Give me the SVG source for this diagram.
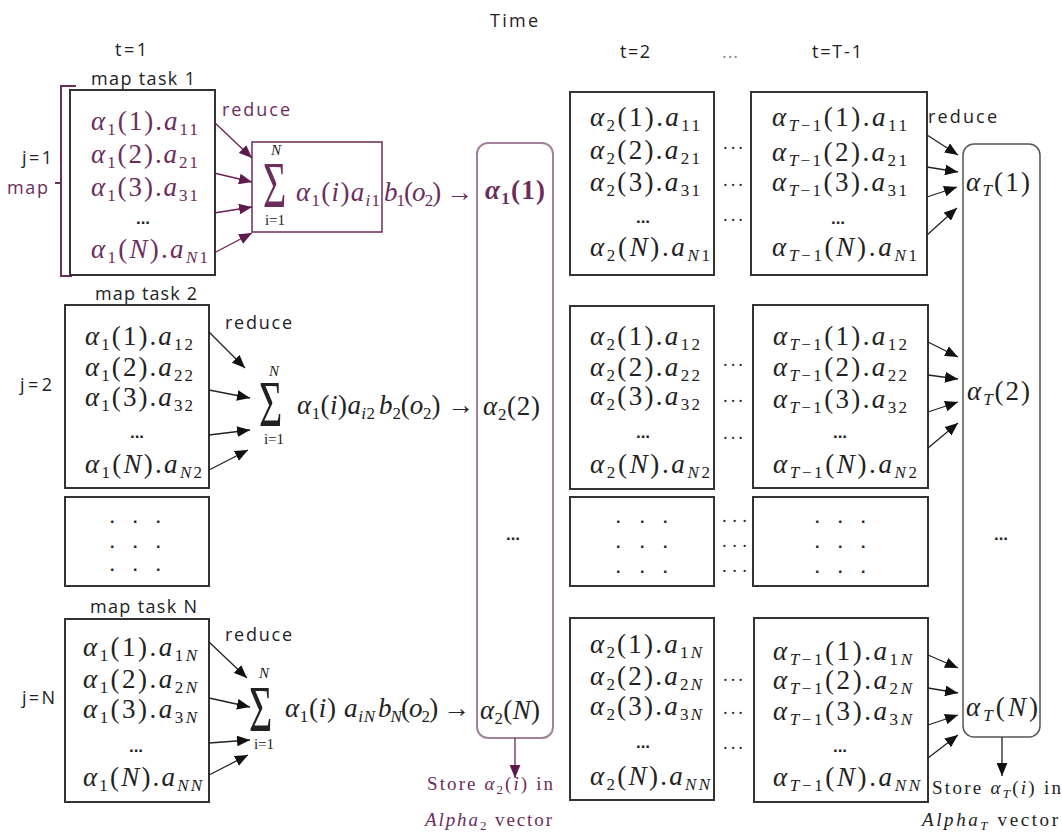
<svg xmlns="http://www.w3.org/2000/svg" width="1062" height="834" viewBox="0 0 1062 834">
<style>
.lbl{font-family:"Open Sans","Liberation Sans",sans-serif;font-size:18px;fill:#222}
.m{font-family:"Liberation Serif",serif;font-size:27px;fill:#222}
.i{font-style:italic}
.s{font-size:17px}
.p{fill:#6b2d5c}
.box{fill:#fff;stroke:#333;stroke-width:2}
.el{font-family:"Liberation Sans",sans-serif;font-size:17px;font-weight:bold;fill:#222}
.dt{font-family:"Liberation Sans",sans-serif;font-size:16px;font-weight:bold;fill:#222}
.lim{font-family:"Liberation Serif",serif;font-size:15px;fill:#222}
.cn{fill:none;stroke:#222;stroke-width:1.3}
.cp{fill:none;stroke:#6b1f55;stroke-width:1.3}
</style>
<defs>
<marker id="ah" viewBox="0 0 12 10" refX="12" refY="5" markerWidth="13" markerHeight="11" markerUnits="userSpaceOnUse" orient="auto"><path d="M0,0 L12,5 L0,10 z" fill="#111"/></marker>
<marker id="ahp" viewBox="0 0 12 10" refX="12" refY="5" markerWidth="13" markerHeight="11" markerUnits="userSpaceOnUse" orient="auto"><path d="M0,0 L12,5 L0,10 z" fill="#5e1a4c"/></marker>
</defs>
<rect width="1062" height="834" fill="#fff"/>

<g id="headers">
<text class="lbl" x="490" y="27" textLength="48">Time</text>
<text class="lbl" x="115" y="56" textLength="32">t=1</text>
<text class="lbl" x="620" y="58" textLength="30">t=2</text>
<text class="lbl" x="722" y="58" textLength="16" style="fill:#888">...</text>
<text class="lbl" x="812" y="58" textLength="50">t=T-1</text>
<text class="lbl" x="22" y="164" textLength="30">j=1</text>
<text class="lbl" x="20" y="391" textLength="32">j=2</text>
<text class="lbl" x="22" y="704" textLength="33">j=N</text>
</g>

<g id="map-bracket">
<path d="M76,86 H61 V276 H72 M61,183 H55" fill="none" stroke="#6b2d5c" stroke-width="2"/>
<text class="lbl p" x="7" y="194" textLength="41">map</text>
</g>

<g id="map-task-1">
<text class="lbl" x="91" y="85" textLength="104">map task 1</text>
<rect class="box" x="70" y="90" width="145" height="185"/>
<text class="m p" x="91" y="130" textLength="107"><tspan class="i">α</tspan><tspan class="s" dy="5">1</tspan><tspan dy="-5">(1).</tspan><tspan class="i">a</tspan><tspan class="s" dy="5">11</tspan></text>
<text class="m p" x="91" y="163" textLength="107"><tspan class="i">α</tspan><tspan class="s" dy="5">1</tspan><tspan dy="-5">(2).</tspan><tspan class="i">a</tspan><tspan class="s" dy="5">21</tspan></text>
<text class="m p" x="91" y="196" textLength="107"><tspan class="i">α</tspan><tspan class="s" dy="5">1</tspan><tspan dy="-5">(3).</tspan><tspan class="i">a</tspan><tspan class="s" dy="5">31</tspan></text>
<text class="el p" x="143" y="224" text-anchor="middle">...</text>
<text class="m p" x="91" y="258" textLength="117"><tspan class="i">α</tspan><tspan class="s" dy="5">1</tspan><tspan dy="-5">(</tspan><tspan class="i">N</tspan>).<tspan class="i">a</tspan><tspan class="s i" dy="5">N</tspan><tspan class="s">1</tspan></text>
</g>

<g id="reduce-1">
<text class="lbl p" x="222" y="116" textLength="68">reduce</text>
<rect x="252" y="142" width="130" height="90" fill="none" stroke="#6b2d5c" stroke-width="1.5"/>
<text class="m p" transform="translate(263,207) scale(1,1.65)" style="font-size:40px">Σ</text>
<text class="lim p i" x="276" y="155" text-anchor="middle">N</text>
<text class="lim p" x="275" y="225" text-anchor="middle">i=1</text>
<text class="m p" x="296" y="201" textLength="84"><tspan class="i">α</tspan><tspan class="s" dy="5">1</tspan><tspan dy="-5">(</tspan><tspan class="i">i</tspan>)<tspan class="i">a</tspan><tspan class="s i" dy="5">i</tspan><tspan class="s">1</tspan></text>
<text class="m p" x="384" y="201" textLength="89"><tspan class="i">b</tspan><tspan class="s" dy="5">1</tspan><tspan dy="-5">(</tspan><tspan class="i">o</tspan><tspan class="s" dy="5">2</tspan><tspan dy="-5">) →</tspan></text>
</g>

<g id="map-task-2">
<text class="lbl" x="95" y="300" textLength="102">map task 2</text>
<rect class="box" x="65" y="305" width="144" height="183"/>
<text class="m" x="85" y="345" textLength="108"><tspan class="i">α</tspan><tspan class="s" dy="5">1</tspan><tspan dy="-5">(1).</tspan><tspan class="i">a</tspan><tspan class="s" dy="5">12</tspan></text>
<text class="m" x="85" y="376" textLength="108"><tspan class="i">α</tspan><tspan class="s" dy="5">1</tspan><tspan dy="-5">(2).</tspan><tspan class="i">a</tspan><tspan class="s" dy="5">22</tspan></text>
<text class="m" x="85" y="406" textLength="108"><tspan class="i">α</tspan><tspan class="s" dy="5">1</tspan><tspan dy="-5">(3).</tspan><tspan class="i">a</tspan><tspan class="s" dy="5">32</tspan></text>
<text class="el" x="137" y="438" text-anchor="middle">...</text>
<text class="m" x="85" y="473" textLength="117"><tspan class="i">α</tspan><tspan class="s" dy="5">1</tspan><tspan dy="-5">(</tspan><tspan class="i">N</tspan>).<tspan class="i">a</tspan><tspan class="s i" dy="5">N</tspan><tspan class="s">2</tspan></text>
</g>

<g id="reduce-2">
<text class="lbl" x="225" y="329" textLength="67">reduce</text>
<text class="m" transform="translate(259,426) scale(1,1.65)" style="font-size:40px">Σ</text>
<text class="lim i" x="274" y="376" text-anchor="middle">N</text>
<text class="lim" x="274" y="444" text-anchor="middle">i=1</text>
<text class="m" x="297" y="414" textLength="78"><tspan class="i">α</tspan><tspan class="s" dy="5">1</tspan><tspan dy="-5">(</tspan><tspan class="i">i</tspan>)<tspan class="i">a</tspan><tspan class="s i" dy="5">i</tspan><tspan class="s">2</tspan></text>
<text class="m" x="379" y="414" textLength="95"><tspan class="i">b</tspan><tspan class="s" dy="5">2</tspan><tspan dy="-5">(</tspan><tspan class="i">o</tspan><tspan class="s" dy="5">2</tspan><tspan dy="-5">) →</tspan></text>
</g>

<g id="map-task-dots">
<rect class="box" x="65" y="497" width="144" height="89"/>
<text class="dt" x="110 133 156" y="523">...</text>
<text class="dt" x="110 133 156" y="548">...</text>
<text class="dt" x="110 133 156" y="571">...</text>
</g>

<g id="map-task-N">
<text class="lbl" x="90" y="613" textLength="107">map task N</text>
<rect class="box" x="65" y="619" width="144" height="183"/>
<text class="m" x="83" y="656" textLength="114"><tspan class="i">α</tspan><tspan class="s" dy="5">1</tspan><tspan dy="-5">(1).</tspan><tspan class="i">a</tspan><tspan class="s" dy="5">1</tspan><tspan class="s i">N</tspan></text>
<text class="m" x="83" y="688" textLength="114"><tspan class="i">α</tspan><tspan class="s" dy="5">1</tspan><tspan dy="-5">(2).</tspan><tspan class="i">a</tspan><tspan class="s" dy="5">2</tspan><tspan class="s i">N</tspan></text>
<text class="m" x="83" y="718" textLength="114"><tspan class="i">α</tspan><tspan class="s" dy="5">1</tspan><tspan dy="-5">(3).</tspan><tspan class="i">a</tspan><tspan class="s" dy="5">3</tspan><tspan class="s i">N</tspan></text>
<text class="el" x="136" y="752" text-anchor="middle">...</text>
<text class="m" x="83" y="786" textLength="119"><tspan class="i">α</tspan><tspan class="s" dy="5">1</tspan><tspan dy="-5">(</tspan><tspan class="i">N</tspan>).<tspan class="i">a</tspan><tspan class="s i" dy="5">NN</tspan></text>
</g>

<g id="reduce-N">
<text class="lbl" x="225" y="641" textLength="67">reduce</text>
<text class="m" transform="translate(249,731) scale(1,1.65)" style="font-size:40px">Σ</text>
<text class="lim i" x="264" y="678" text-anchor="middle">N</text>
<text class="lim" x="264" y="749" text-anchor="middle">i=1</text>
<text class="m" x="285" y="717" textLength="90"><tspan class="i">α</tspan><tspan class="s" dy="5">1</tspan><tspan dy="-5">(</tspan><tspan class="i">i</tspan>) <tspan class="i">a</tspan><tspan class="s i" dy="5">iN</tspan></text>
<text class="m" x="378" y="717" textLength="92"><tspan class="i">b</tspan><tspan class="s i" dy="5">N</tspan><tspan dy="-5">(</tspan><tspan class="i">o</tspan><tspan class="s" dy="5">2</tspan><tspan dy="-5">) →</tspan></text>
</g>

<g id="alpha2-column">
<rect x="477" y="143" width="76" height="595" rx="11" fill="none" stroke="#a5809b" stroke-width="2"/>
<text class="m p" x="485" y="199" textLength="60" font-weight="bold"><tspan class="i">α</tspan><tspan class="s" dy="5">1</tspan><tspan dy="-5">(1)</tspan></text>
<text class="m" x="483" y="415" textLength="57"><tspan class="i">α</tspan><tspan class="s" dy="5">2</tspan><tspan dy="-5">(2)</tspan></text>
<text class="el" x="513" y="540" text-anchor="middle">...</text>
<text class="m" x="480" y="719" textLength="60"><tspan class="i">α</tspan><tspan class="s" dy="5">2</tspan><tspan dy="-5">(</tspan><tspan class="i">N</tspan>)</text>
</g>
<g id="store-alpha2">
<text class="m p" x="427" y="790" textLength="126" style="font-size:19px">Store <tspan class="i">α</tspan><tspan style="font-size:13px" dy="4">2</tspan><tspan dy="-4">(</tspan><tspan class="i">i</tspan>) in</text>
<text class="m p" x="425" y="826" textLength="127" style="font-size:19px"><tspan class="i">Alpha</tspan><tspan style="font-size:13px" dy="4">2</tspan><tspan dy="-4"> vector</tspan></text>
</g>

<g id="t2-row1">
<rect class="box" x="570" y="92" width="144" height="183"/>
<text class="m" x="590" y="126" textLength="110"><tspan class="i">α</tspan><tspan class="s" dy="5">2</tspan><tspan dy="-5">(1).</tspan><tspan class="i">a</tspan><tspan class="s" dy="5">11</tspan></text>
<text class="m" x="590" y="159" textLength="110"><tspan class="i">α</tspan><tspan class="s" dy="5">2</tspan><tspan dy="-5">(2).</tspan><tspan class="i">a</tspan><tspan class="s" dy="5">21</tspan></text>
<text class="m" x="590" y="191" textLength="110"><tspan class="i">α</tspan><tspan class="s" dy="5">2</tspan><tspan dy="-5">(3).</tspan><tspan class="i">a</tspan><tspan class="s" dy="5">31</tspan></text>
<text class="el" x="643" y="223" text-anchor="middle">...</text>
<text class="m" x="590" y="256" textLength="120"><tspan class="i">α</tspan><tspan class="s" dy="5">2</tspan><tspan dy="-5">(</tspan><tspan class="i">N</tspan>).<tspan class="i">a</tspan><tspan class="s i" dy="5">N</tspan><tspan class="s">1</tspan></text>
</g>
<g id="t2-row2">
<rect class="box" x="570" y="306" width="144" height="183"/>
<text class="m" x="590" y="345" textLength="110"><tspan class="i">α</tspan><tspan class="s" dy="5">2</tspan><tspan dy="-5">(1).</tspan><tspan class="i">a</tspan><tspan class="s" dy="5">12</tspan></text>
<text class="m" x="590" y="376" textLength="110"><tspan class="i">α</tspan><tspan class="s" dy="5">2</tspan><tspan dy="-5">(2).</tspan><tspan class="i">a</tspan><tspan class="s" dy="5">22</tspan></text>
<text class="m" x="590" y="405" textLength="110"><tspan class="i">α</tspan><tspan class="s" dy="5">2</tspan><tspan dy="-5">(3).</tspan><tspan class="i">a</tspan><tspan class="s" dy="5">32</tspan></text>
<text class="el" x="643" y="438" text-anchor="middle">...</text>
<text class="m" x="590" y="473" textLength="120"><tspan class="i">α</tspan><tspan class="s" dy="5">2</tspan><tspan dy="-5">(</tspan><tspan class="i">N</tspan>).<tspan class="i">a</tspan><tspan class="s i" dy="5">N</tspan><tspan class="s">2</tspan></text>
</g>
<g id="t2-row3">
<rect class="box" x="570" y="497" width="144" height="89"/>
<text class="dt" x="616 640 663" y="523">...</text>
<text class="dt" x="616 640 663" y="548">...</text>
<text class="dt" x="616 640 663" y="573">...</text>
</g>
<g id="t2-rowN">
<rect class="box" x="570" y="618" width="144" height="182"/>
<text class="m" x="590" y="653" textLength="112"><tspan class="i">α</tspan><tspan class="s" dy="5">2</tspan><tspan dy="-5">(1).</tspan><tspan class="i">a</tspan><tspan class="s" dy="5">1</tspan><tspan class="s i">N</tspan></text>
<text class="m" x="590" y="685" textLength="112"><tspan class="i">α</tspan><tspan class="s" dy="5">2</tspan><tspan dy="-5">(2).</tspan><tspan class="i">a</tspan><tspan class="s" dy="5">2</tspan><tspan class="s i">N</tspan></text>
<text class="m" x="590" y="715" textLength="112"><tspan class="i">α</tspan><tspan class="s" dy="5">2</tspan><tspan dy="-5">(3).</tspan><tspan class="i">a</tspan><tspan class="s" dy="5">3</tspan><tspan class="s i">N</tspan></text>
<text class="el" x="643" y="748" text-anchor="middle">...</text>
<text class="m" x="590" y="785" textLength="120"><tspan class="i">α</tspan><tspan class="s" dy="5">2</tspan><tspan dy="-5">(</tspan><tspan class="i">N</tspan>).<tspan class="i">a</tspan><tspan class="s i" dy="5">NN</tspan></text>
</g>

<g id="between-dots">
<text class="lbl" x="723" y="149" textLength="20">...</text>
<text class="lbl" x="723" y="186" textLength="20">...</text>
<text class="lbl" x="723" y="221" textLength="20">...</text>
<text class="lbl" x="723" y="366" textLength="20">...</text>
<text class="lbl" x="723" y="402" textLength="20">...</text>
<text class="lbl" x="723" y="439" textLength="20">...</text>
<text class="lbl" x="722" y="522" textLength="25">...</text>
<text class="lbl" x="722" y="547" textLength="25">...</text>
<text class="lbl" x="722" y="572" textLength="25">...</text>
<text class="lbl" x="723" y="681" textLength="20">...</text>
<text class="lbl" x="723" y="714" textLength="20">...</text>
<text class="lbl" x="723" y="749" textLength="20">...</text>
</g>

<g id="tT1-row1">
<rect class="box" x="751" y="92" width="176" height="183"/>
<text class="m" x="772" y="126" textLength="135"><tspan class="i">α</tspan><tspan class="s i" dy="5">T</tspan><tspan class="s">−1</tspan><tspan dy="-5">(1).</tspan><tspan class="i">a</tspan><tspan class="s" dy="5">11</tspan></text>
<text class="m" x="772" y="161" textLength="135"><tspan class="i">α</tspan><tspan class="s i" dy="5">T</tspan><tspan class="s">−1</tspan><tspan dy="-5">(2).</tspan><tspan class="i">a</tspan><tspan class="s" dy="5">21</tspan></text>
<text class="m" x="772" y="191" textLength="135"><tspan class="i">α</tspan><tspan class="s i" dy="5">T</tspan><tspan class="s">−1</tspan><tspan dy="-5">(3).</tspan><tspan class="i">a</tspan><tspan class="s" dy="5">31</tspan></text>
<text class="el" x="838" y="224" text-anchor="middle">...</text>
<text class="m" x="772" y="256" textLength="145"><tspan class="i">α</tspan><tspan class="s i" dy="5">T</tspan><tspan class="s">−1</tspan><tspan dy="-5">(</tspan><tspan class="i">N</tspan>).<tspan class="i">a</tspan><tspan class="s i" dy="5">N</tspan><tspan class="s">1</tspan></text>
</g>
<g id="tT1-row2">
<rect class="box" x="753" y="305" width="175" height="183"/>
<text class="m" x="773" y="345" textLength="134"><tspan class="i">α</tspan><tspan class="s i" dy="5">T</tspan><tspan class="s">−1</tspan><tspan dy="-5">(1).</tspan><tspan class="i">a</tspan><tspan class="s" dy="5">12</tspan></text>
<text class="m" x="773" y="376" textLength="134"><tspan class="i">α</tspan><tspan class="s i" dy="5">T</tspan><tspan class="s">−1</tspan><tspan dy="-5">(2).</tspan><tspan class="i">a</tspan><tspan class="s" dy="5">22</tspan></text>
<text class="m" x="773" y="408" textLength="134"><tspan class="i">α</tspan><tspan class="s i" dy="5">T</tspan><tspan class="s">−1</tspan><tspan dy="-5">(3).</tspan><tspan class="i">a</tspan><tspan class="s" dy="5">32</tspan></text>
<text class="el" x="840" y="438" text-anchor="middle">...</text>
<text class="m" x="773" y="473" textLength="144"><tspan class="i">α</tspan><tspan class="s i" dy="5">T</tspan><tspan class="s">−1</tspan><tspan dy="-5">(</tspan><tspan class="i">N</tspan>).<tspan class="i">a</tspan><tspan class="s i" dy="5">N</tspan><tspan class="s">2</tspan></text>
</g>
<g id="tT1-row3">
<rect class="box" x="753" y="497" width="175" height="89"/>
<text class="dt" x="815 838 861" y="523">...</text>
<text class="dt" x="815 838 861" y="548">...</text>
<text class="dt" x="815 838 861" y="573">...</text>
</g>
<g id="tT1-rowN">
<rect class="box" x="754" y="618" width="174" height="184"/>
<text class="m" x="773" y="660" textLength="139"><tspan class="i">α</tspan><tspan class="s i" dy="5">T</tspan><tspan class="s">−1</tspan><tspan dy="-5">(1).</tspan><tspan class="i">a</tspan><tspan class="s" dy="5">1</tspan><tspan class="s i">N</tspan></text>
<text class="m" x="773" y="689" textLength="139"><tspan class="i">α</tspan><tspan class="s i" dy="5">T</tspan><tspan class="s">−1</tspan><tspan dy="-5">(2).</tspan><tspan class="i">a</tspan><tspan class="s" dy="5">2</tspan><tspan class="s i">N</tspan></text>
<text class="m" x="773" y="720" textLength="139"><tspan class="i">α</tspan><tspan class="s i" dy="5">T</tspan><tspan class="s">−1</tspan><tspan dy="-5">(3).</tspan><tspan class="i">a</tspan><tspan class="s" dy="5">3</tspan><tspan class="s i">N</tspan></text>
<text class="el" x="840" y="752" text-anchor="middle">...</text>
<text class="m" x="773" y="786" textLength="147"><tspan class="i">α</tspan><tspan class="s i" dy="5">T</tspan><tspan class="s">−1</tspan><tspan dy="-5">(</tspan><tspan class="i">N</tspan>).<tspan class="i">a</tspan><tspan class="s i" dy="5">NN</tspan></text>
</g>

<g id="reduce-T">
<text class="lbl" x="928" y="123" textLength="69">reduce</text>
</g>

<g id="alphaT-column">
<rect x="963" y="144" width="77" height="593" rx="11" fill="none" stroke="#555" stroke-width="1.5"/>
<text class="m" x="966" y="191" textLength="64"><tspan class="i">α</tspan><tspan class="s i" dy="5">T</tspan><tspan dy="-5">(1)</tspan></text>
<text class="m" x="967" y="400" textLength="63"><tspan class="i">α</tspan><tspan class="s i" dy="5">T</tspan><tspan dy="-5">(2)</tspan></text>
<text class="el" x="1001" y="540" text-anchor="middle">...</text>
<text class="m" x="966" y="716" textLength="72"><tspan class="i">α</tspan><tspan class="s i" dy="5">T</tspan><tspan dy="-5">(</tspan><tspan class="i">N</tspan>)</text>
</g>
<g id="store-alphaT">
<text class="m" x="932" y="794" textLength="129" style="font-size:19px">Store <tspan class="i">α</tspan><tspan class="i" style="font-size:13px" dy="4">T</tspan><tspan dy="-4">(</tspan><tspan class="i">i</tspan>) in</text>
<text class="m" x="922" y="826" textLength="136" style="font-size:19px"><tspan class="i">Alpha</tspan><tspan class="i" style="font-size:13px" dy="4">T</tspan><tspan dy="-4"> vector</tspan></text>
</g>

<g id="connectors">
<line class="cp" x1="214" y1="122" x2="252" y2="158" marker-end="url(#ahp)"/>
<line class="cp" x1="214" y1="173" x2="252" y2="182" marker-end="url(#ahp)"/>
<line class="cp" x1="214" y1="213" x2="252" y2="207" marker-end="url(#ahp)"/>
<line class="cp" x1="214" y1="253" x2="252" y2="233" marker-end="url(#ahp)"/>

<line class="cn" x1="209" y1="332" x2="245" y2="368" marker-end="url(#ah)"/>
<line class="cn" x1="209" y1="390" x2="250" y2="398" marker-end="url(#ah)"/>
<line class="cn" x1="209" y1="435" x2="250" y2="430" marker-end="url(#ah)"/>
<line class="cn" x1="209" y1="470" x2="248" y2="450" marker-end="url(#ah)"/>

<line class="cn" x1="209" y1="642" x2="247" y2="678" marker-end="url(#ah)"/>
<line class="cn" x1="209" y1="698" x2="250" y2="707" marker-end="url(#ah)"/>
<line class="cn" x1="209" y1="743" x2="250" y2="740" marker-end="url(#ah)"/>
<line class="cn" x1="209" y1="775" x2="248" y2="755" marker-end="url(#ah)"/>

<line class="cn" x1="927" y1="135" x2="958" y2="155" marker-end="url(#ah)"/>
<line class="cn" x1="927" y1="167" x2="958" y2="172" marker-end="url(#ah)"/>
<line class="cn" x1="927" y1="197" x2="957" y2="187" marker-end="url(#ah)"/>
<line class="cn" x1="927" y1="235" x2="957" y2="208" marker-end="url(#ah)"/>

<line class="cn" x1="928" y1="342" x2="958" y2="357" marker-end="url(#ah)"/>
<line class="cn" x1="928" y1="375" x2="958" y2="379" marker-end="url(#ah)"/>
<line class="cn" x1="928" y1="412" x2="958" y2="402" marker-end="url(#ah)"/>
<line class="cn" x1="928" y1="448" x2="958" y2="423" marker-end="url(#ah)"/>

<line class="cn" x1="928" y1="655" x2="958" y2="668" marker-end="url(#ah)"/>
<line class="cn" x1="928" y1="688" x2="958" y2="693" marker-end="url(#ah)"/>
<line class="cn" x1="928" y1="725" x2="958" y2="715" marker-end="url(#ah)"/>
<line class="cn" x1="928" y1="758" x2="958" y2="735" marker-end="url(#ah)"/>

<line class="cp" x1="515" y1="738" x2="515" y2="778" marker-end="url(#ahp)"/>
<line class="cn" x1="1002" y1="737" x2="1002" y2="776" marker-end="url(#ah)"/>
</g>
</svg>
